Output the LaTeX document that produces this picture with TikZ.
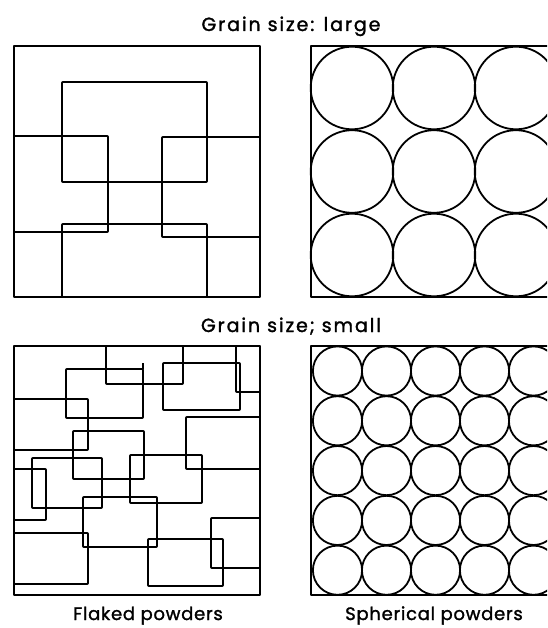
\documentclass[tikz,border=0pt]{standalone}
\usepackage{fontspec}
\setmainfont{Poppins}[FakeBold=1.5,LetterSpace=10]
\begin{document}
\begin{tikzpicture}[x=1pt,y=-1pt,line join=round,
  frame/.style={draw,line width=1.9pt},
  flake/.style={draw,line width=1.9pt,rounded corners=0.8pt},
  grain/.style={draw,line width=1.8pt},
  lbl/.style={font=\fontsize{19}{21}\selectfont,anchor=base,inner sep=0pt},
  caption/.style={font=\fontsize{18}{20}\selectfont\addfontfeatures{LetterSpace=4},anchor=base,inner sep=0pt}]
\useasboundingbox (0,0) rectangle (547,628);
\begin{scope}
\clip (0,0) rectangle (547,628);
% top-left: large flakes
\draw[frame] (14,46) rectangle (260,297);
\draw[flake] (62,82) rectangle (207,182);
\draw[flake] (14,136) rectangle (108,232);
\draw[flake] (162,137) rectangle (260,237);
\draw[flake] (62,224) rectangle (207,297);
% top-right: large spheres
\draw[frame] (311,46) rectangle (600,297);
\foreach \i in {0,1,2}{\foreach \j in {0,1,2}{
  \draw[grain] ({352+82*\i},{88+83.5*\j}) circle[radius=41.3pt];}}
% bottom-left: small flakes
\draw[frame] (14,346) rectangle (260,595);
\draw[flake] (106,346) rectangle (183,384);
\draw[flake] (66,369) rectangle (143,418);
\draw[flake] (143,369) -- (143,363);
\draw[flake] (163,363) rectangle (240,410);
\draw[flake] (236,346) rectangle (260,392);
\draw[flake] (14,399) rectangle (88,450);
\draw[flake] (73,431) rectangle (144,479);
\draw[flake] (186,417) rectangle (260,469);
\draw[flake] (130,455) rectangle (202,503);
\draw[flake] (32,458) rectangle (102,508);
\draw[flake] (14,469) rectangle (46,520);
\draw[flake] (83,497) rectangle (157,547);
\draw[flake] (14,533) rectangle (88,584);
\draw[flake] (148,539) rectangle (223,586);
\draw[flake] (211,518) rectangle (260,568);
% bottom-right: small spheres
\draw[frame] (311,346) rectangle (600,595);
\foreach \i in {0,...,4}{\foreach \j in {0,...,4}{
  \draw[grain] ({337.5+49*\i},{371+49.8*\j}) circle[radius=24.6pt];}}
\end{scope}
\node[lbl] (t1) at (291,31) {Grain size: large};
\node[lbl] (t2) at (291,332) {Grain size; small};
\node[caption] (t3) at (148,620) {Flaked powders};
\node[caption] (t4) at (434,620) {Spherical powders};
\end{tikzpicture}
\end{document}
